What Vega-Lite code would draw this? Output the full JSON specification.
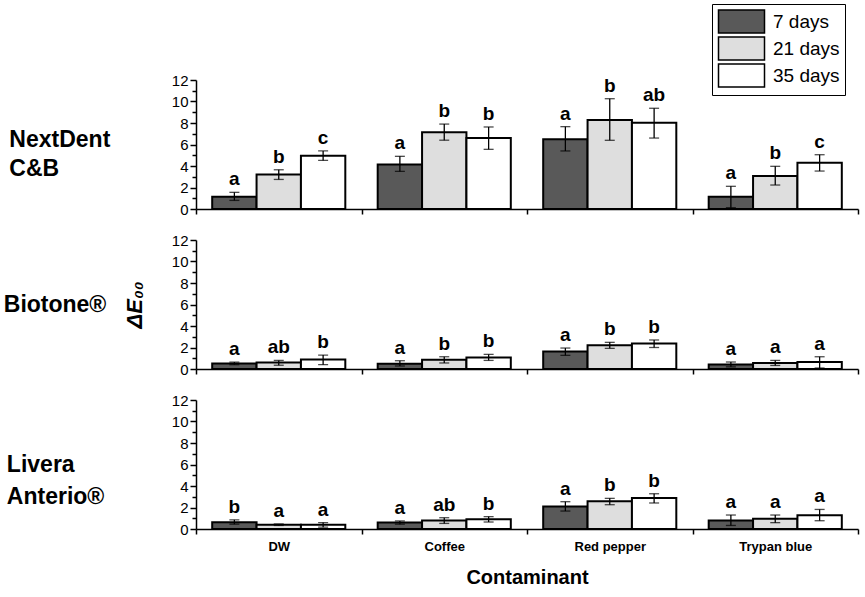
{
  "$schema": "https://vega.github.io/schema/vega-lite/v6.json",
  "padding": {"left": 3, "top": 3, "right": 5, "bottom": 5},
  "config": {"view": {"stroke": null}, "font": "Liberation Sans",
    "axis": {"domainColor": "black", "tickColor": "black", "labelColor": "black", "titleColor": "black", "grid": false, "domainWidth": 1.5, "tickWidth": 1.5},
    "axisY": {"labelOverlap": false}},
  "datasets": {"d": [
    {"material": "NextDent C&B", "contaminant": "DW", "time": "7 days", "mean": 1.15, "lo": 0.8, "hi": 1.55, "letter": "a"},
    {"material": "NextDent C&B", "contaminant": "DW", "time": "21 days", "mean": 3.2, "lo": 2.75, "hi": 3.65, "letter": "b"},
    {"material": "NextDent C&B", "contaminant": "DW", "time": "35 days", "mean": 4.95, "lo": 4.52, "hi": 5.4, "letter": "c"},
    {"material": "NextDent C&B", "contaminant": "Coffee", "time": "7 days", "mean": 4.15, "lo": 3.5, "hi": 4.9, "letter": "a"},
    {"material": "NextDent C&B", "contaminant": "Coffee", "time": "21 days", "mean": 7.15, "lo": 6.4, "hi": 7.9, "letter": "b"},
    {"material": "NextDent C&B", "contaminant": "Coffee", "time": "35 days", "mean": 6.6, "lo": 5.55, "hi": 7.63, "letter": "b"},
    {"material": "NextDent C&B", "contaminant": "Red pepper", "time": "7 days", "mean": 6.5, "lo": 5.4, "hi": 7.66, "letter": "a"},
    {"material": "NextDent C&B", "contaminant": "Red pepper", "time": "21 days", "mean": 8.28, "lo": 6.39, "hi": 10.26, "letter": "b"},
    {"material": "NextDent C&B", "contaminant": "Red pepper", "time": "35 days", "mean": 8.03, "lo": 6.6, "hi": 9.37, "letter": "ab"},
    {"material": "NextDent C&B", "contaminant": "Trypan blue", "time": "7 days", "mean": 1.15, "lo": 0.12, "hi": 2.11, "letter": "a"},
    {"material": "NextDent C&B", "contaminant": "Trypan blue", "time": "21 days", "mean": 3.07, "lo": 2.23, "hi": 3.97, "letter": "b"},
    {"material": "NextDent C&B", "contaminant": "Trypan blue", "time": "35 days", "mean": 4.31, "lo": 3.53, "hi": 5.05, "letter": "c"},
    {"material": "Biotone", "contaminant": "DW", "time": "7 days", "mean": 0.52, "lo": 0.4, "hi": 0.64, "letter": "a"},
    {"material": "Biotone", "contaminant": "DW", "time": "21 days", "mean": 0.6, "lo": 0.35, "hi": 0.8, "letter": "ab"},
    {"material": "Biotone", "contaminant": "DW", "time": "35 days", "mean": 0.88, "lo": 0.4, "hi": 1.3, "letter": "b"},
    {"material": "Biotone", "contaminant": "Coffee", "time": "7 days", "mean": 0.5, "lo": 0.28, "hi": 0.77, "letter": "a"},
    {"material": "Biotone", "contaminant": "Coffee", "time": "21 days", "mean": 0.87, "lo": 0.56, "hi": 1.14, "letter": "b"},
    {"material": "Biotone", "contaminant": "Coffee", "time": "35 days", "mean": 1.08, "lo": 0.8, "hi": 1.36, "letter": "b"},
    {"material": "Biotone", "contaminant": "Red pepper", "time": "7 days", "mean": 1.62, "lo": 1.27, "hi": 1.95, "letter": "a"},
    {"material": "Biotone", "contaminant": "Red pepper", "time": "21 days", "mean": 2.2, "lo": 1.92, "hi": 2.48, "letter": "b"},
    {"material": "Biotone", "contaminant": "Red pepper", "time": "35 days", "mean": 2.38, "lo": 2.0, "hi": 2.7, "letter": "b"},
    {"material": "Biotone", "contaminant": "Trypan blue", "time": "7 days", "mean": 0.43, "lo": 0.2, "hi": 0.65, "letter": "a"},
    {"material": "Biotone", "contaminant": "Trypan blue", "time": "21 days", "mean": 0.56, "lo": 0.33, "hi": 0.8, "letter": "a"},
    {"material": "Biotone", "contaminant": "Trypan blue", "time": "35 days", "mean": 0.65, "lo": 0.09, "hi": 1.14, "letter": "a"},
    {"material": "Livera", "contaminant": "DW", "time": "7 days", "mean": 0.63, "lo": 0.45, "hi": 0.85, "letter": "b"},
    {"material": "Livera", "contaminant": "DW", "time": "21 days", "mean": 0.4, "lo": 0.33, "hi": 0.47, "letter": "a"},
    {"material": "Livera", "contaminant": "DW", "time": "35 days", "mean": 0.4, "lo": 0.17, "hi": 0.6, "letter": "a"},
    {"material": "Livera", "contaminant": "Coffee", "time": "7 days", "mean": 0.6, "lo": 0.45, "hi": 0.75, "letter": "a"},
    {"material": "Livera", "contaminant": "Coffee", "time": "21 days", "mean": 0.8, "lo": 0.52, "hi": 1.05, "letter": "ab"},
    {"material": "Livera", "contaminant": "Coffee", "time": "35 days", "mean": 0.9, "lo": 0.65, "hi": 1.15, "letter": "b"},
    {"material": "Livera", "contaminant": "Red pepper", "time": "7 days", "mean": 2.1, "lo": 1.67, "hi": 2.54, "letter": "a"},
    {"material": "Livera", "contaminant": "Red pepper", "time": "21 days", "mean": 2.57, "lo": 2.26, "hi": 2.85, "letter": "b"},
    {"material": "Livera", "contaminant": "Red pepper", "time": "35 days", "mean": 2.88, "lo": 2.42, "hi": 3.28, "letter": "b"},
    {"material": "Livera", "contaminant": "Trypan blue", "time": "7 days", "mean": 0.8, "lo": 0.33, "hi": 1.3, "letter": "a"},
    {"material": "Livera", "contaminant": "Trypan blue", "time": "21 days", "mean": 0.96, "lo": 0.59, "hi": 1.3, "letter": "a"},
    {"material": "Livera", "contaminant": "Trypan blue", "time": "35 days", "mean": 1.27, "lo": 0.77, "hi": 1.82, "letter": "a"}
  ]},
  "data": {"name": "d"},
  "spacing": 31,
  "bounds": "flush",
  "vconcat": [
    {
      "width": 662, "height": 129,
      "title": {"text": ["NextDent", "C&B"], "orient": "left", "angle": 0, "align": "left", "baseline": "middle", "anchor": "middle", "fontSize": 23, "fontWeight": "bold", "lineHeight": 29, "offset": 61, "dy": -5, "color": "black"},
      "transform": [{"filter": "datum.material === 'NextDent C&B'"}],
      "encoding": {
        "x": {"field": "contaminant", "type": "nominal", "sort": ["DW", "Coffee", "Red pepper", "Trypan blue"], "scale": {"paddingInner": 0, "paddingOuter": 0}, "axis": {"title": null, "labels": false, "tickBand": "extent", "tickSize": 5}},
        "xOffset": {"field": "time", "type": "nominal", "sort": ["7 days", "21 days", "35 days"], "scale": {"paddingInner": 0, "paddingOuter": 0.365}}
      },
      "layer": [
        {"mark": {"type": "bar", "stroke": "black", "strokeWidth": 2},
         "encoding": {
           "y": {"field": "mean", "type": "quantitative", "title": null, "scale": {"domain": [0, 12], "nice": false}, "axis": {"values": [0,1,2,3,4,5,6,7,8,9,10,11,12], "labelExpr": "datum.value % 2 === 0 ? datum.label : ''", "labelOverlap": false, "labelFontSize": 15, "tickSize": {"condition": {"test": "datum.value % 2 === 0", "value": 6}, "value": 4}, "labelPadding": 2}},
           "fill": {"field": "time", "type": "nominal", "sort": ["7 days", "21 days", "35 days"], "scale": {"domain": ["7 days", "21 days", "35 days"], "range": ["#595959", "#dedede", "#ffffff"]},
             "legend": {"title": null, "orient": "none", "legendX": 516, "legendY": -76, "strokeColor": "black", "padding": 5, "symbolType": "M-2,-1H2V1H-2Z", "symbolSize": 529, "symbolStrokeColor": "black", "symbolStrokeWidth": 1.5, "symbolOffset": 12, "labelOffset": 19, "labelFontSize": 19, "labelColor": "black", "rowPadding": -2, "fillColor": "white"}}
         }},
        {"mark": {"type": "rule", "strokeWidth": 1.3, "color": "black"}, "encoding": {"y": {"field": "lo", "type": "quantitative", "title": null, "axis": {"values": [0,1,2,3,4,5,6,7,8,9,10,11,12], "labelExpr": "datum.value % 2 === 0 ? datum.label : ''", "labelOverlap": false, "labelFontSize": 15, "tickSize": {"condition": {"test": "datum.value % 2 === 0", "value": 6}, "value": 4}, "labelPadding": 2}}, "y2": {"field": "hi"}}},
        {"mark": {"type": "tick", "orient": "horizontal", "size": 10, "thickness": 1.3, "color": "black"}, "encoding": {"y": {"field": "hi", "type": "quantitative", "title": null, "axis": {"values": [0,1,2,3,4,5,6,7,8,9,10,11,12], "labelExpr": "datum.value % 2 === 0 ? datum.label : ''", "labelOverlap": false, "labelFontSize": 15, "tickSize": {"condition": {"test": "datum.value % 2 === 0", "value": 6}, "value": 4}, "labelPadding": 2}}}},
        {"mark": {"type": "tick", "orient": "horizontal", "size": 10, "thickness": 1.3, "color": "black"}, "encoding": {"y": {"field": "lo", "type": "quantitative", "title": null, "axis": {"values": [0,1,2,3,4,5,6,7,8,9,10,11,12], "labelExpr": "datum.value % 2 === 0 ? datum.label : ''", "labelOverlap": false, "labelFontSize": 15, "tickSize": {"condition": {"test": "datum.value % 2 === 0", "value": 6}, "value": 4}, "labelPadding": 2}}}},
        {"mark": {"type": "text", "baseline": "bottom", "dy": -3, "fontSize": 19, "fontWeight": "bold", "color": "black"}, "encoding": {"y": {"field": "hi", "type": "quantitative", "title": null, "axis": {"values": [0,1,2,3,4,5,6,7,8,9,10,11,12], "labelExpr": "datum.value % 2 === 0 ? datum.label : ''", "labelOverlap": false, "labelFontSize": 15, "tickSize": {"condition": {"test": "datum.value % 2 === 0", "value": 6}, "value": 4}, "labelPadding": 2}}, "text": {"field": "letter"}}}
      ]
    },
    {
      "width": 662, "height": 129,
      "title": {"text": "Biotone®", "orient": "left", "angle": 0, "align": "left", "baseline": "middle", "anchor": "middle", "fontSize": 23, "fontWeight": "bold", "offset": 17, "color": "black"},
      "transform": [{"filter": "datum.material === 'Biotone'"}],
      "encoding": {
        "x": {"field": "contaminant", "type": "nominal", "sort": ["DW", "Coffee", "Red pepper", "Trypan blue"], "scale": {"paddingInner": 0, "paddingOuter": 0}, "axis": {"title": null, "labels": false, "tickBand": "extent", "tickSize": 5}},
        "xOffset": {"field": "time", "type": "nominal", "sort": ["7 days", "21 days", "35 days"], "scale": {"paddingInner": 0, "paddingOuter": 0.365}}
      },
      "layer": [
        {"mark": {"type": "bar", "stroke": "black", "strokeWidth": 2},
         "encoding": {
           "y": {"field": "mean", "type": "quantitative", "title": "ΔE₀₀", "scale": {"domain": [0, 12], "nice": false}, "axis": {"values": [0,1,2,3,4,5,6,7,8,9,10,11,12], "labelExpr": "datum.value % 2 === 0 ? datum.label : ''", "labelOverlap": false, "labelFontSize": 15, "tickSize": {"condition": {"test": "datum.value % 2 === 0", "value": 6}, "value": 4}, "labelPadding": 2, "titleFontSize": 22, "titleFontWeight": "bold", "titleFontStyle": "italic", "titlePadding": 25}},
           "fill": {"field": "time", "type": "nominal", "sort": ["7 days", "21 days", "35 days"]}
         }},
        {"mark": {"type": "rule", "strokeWidth": 1.3, "color": "black"}, "encoding": {"y": {"field": "lo", "type": "quantitative", "title": "ΔE₀₀", "axis": {"values": [0,1,2,3,4,5,6,7,8,9,10,11,12], "labelExpr": "datum.value % 2 === 0 ? datum.label : ''", "labelOverlap": false, "labelFontSize": 15, "tickSize": {"condition": {"test": "datum.value % 2 === 0", "value": 6}, "value": 4}, "labelPadding": 2, "titleFontSize": 22, "titleFontWeight": "bold", "titleFontStyle": "italic", "titlePadding": 25}}, "y2": {"field": "hi"}}},
        {"mark": {"type": "tick", "orient": "horizontal", "size": 10, "thickness": 1.3, "color": "black"}, "encoding": {"y": {"field": "hi", "type": "quantitative", "title": "ΔE₀₀", "axis": {"values": [0,1,2,3,4,5,6,7,8,9,10,11,12], "labelExpr": "datum.value % 2 === 0 ? datum.label : ''", "labelOverlap": false, "labelFontSize": 15, "tickSize": {"condition": {"test": "datum.value % 2 === 0", "value": 6}, "value": 4}, "labelPadding": 2, "titleFontSize": 22, "titleFontWeight": "bold", "titleFontStyle": "italic", "titlePadding": 25}}}},
        {"mark": {"type": "tick", "orient": "horizontal", "size": 10, "thickness": 1.3, "color": "black"}, "encoding": {"y": {"field": "lo", "type": "quantitative", "title": "ΔE₀₀", "axis": {"values": [0,1,2,3,4,5,6,7,8,9,10,11,12], "labelExpr": "datum.value % 2 === 0 ? datum.label : ''", "labelOverlap": false, "labelFontSize": 15, "tickSize": {"condition": {"test": "datum.value % 2 === 0", "value": 6}, "value": 4}, "labelPadding": 2, "titleFontSize": 22, "titleFontWeight": "bold", "titleFontStyle": "italic", "titlePadding": 25}}}},
        {"mark": {"type": "text", "baseline": "bottom", "dy": -3, "fontSize": 19, "fontWeight": "bold", "color": "black"}, "encoding": {"y": {"field": "hi", "type": "quantitative", "title": "ΔE₀₀", "axis": {"values": [0,1,2,3,4,5,6,7,8,9,10,11,12], "labelExpr": "datum.value % 2 === 0 ? datum.label : ''", "labelOverlap": false, "labelFontSize": 15, "tickSize": {"condition": {"test": "datum.value % 2 === 0", "value": 6}, "value": 4}, "labelPadding": 2, "titleFontSize": 22, "titleFontWeight": "bold", "titleFontStyle": "italic", "titlePadding": 25}}, "text": {"field": "letter"}}}
      ]
    },
    {
      "width": 662, "height": 129,
      "title": {"text": ["Livera", "Anterio®"], "orient": "left", "angle": 0, "align": "left", "baseline": "middle", "anchor": "middle", "fontSize": 23, "fontWeight": "bold", "lineHeight": 32, "offset": 67, "color": "black"},
      "transform": [{"filter": "datum.material === 'Livera'"}],
      "encoding": {
        "x": {"field": "contaminant", "type": "nominal", "sort": ["DW", "Coffee", "Red pepper", "Trypan blue"], "scale": {"paddingInner": 0, "paddingOuter": 0}, "axis": {"title": "Contaminant", "labelAngle": 0, "labelFontSize": 13, "labelFontWeight": "bold", "labelPadding": 6, "titleFontSize": 20, "titleFontWeight": "bold", "titlePadding": 14, "tickBand": "extent", "tickSize": 5}},
        "xOffset": {"field": "time", "type": "nominal", "sort": ["7 days", "21 days", "35 days"], "scale": {"paddingInner": 0, "paddingOuter": 0.365}}
      },
      "layer": [
        {"mark": {"type": "bar", "stroke": "black", "strokeWidth": 2},
         "encoding": {
           "y": {"field": "mean", "type": "quantitative", "title": null, "scale": {"domain": [0, 12], "nice": false}, "axis": {"values": [0,1,2,3,4,5,6,7,8,9,10,11,12], "labelExpr": "datum.value % 2 === 0 ? datum.label : ''", "labelOverlap": false, "labelFontSize": 15, "tickSize": {"condition": {"test": "datum.value % 2 === 0", "value": 6}, "value": 4}, "labelPadding": 2}},
           "fill": {"field": "time", "type": "nominal", "sort": ["7 days", "21 days", "35 days"]}
         }},
        {"mark": {"type": "rule", "strokeWidth": 1.3, "color": "black"}, "encoding": {"y": {"field": "lo", "type": "quantitative", "title": null, "axis": {"values": [0,1,2,3,4,5,6,7,8,9,10,11,12], "labelExpr": "datum.value % 2 === 0 ? datum.label : ''", "labelOverlap": false, "labelFontSize": 15, "tickSize": {"condition": {"test": "datum.value % 2 === 0", "value": 6}, "value": 4}, "labelPadding": 2}}, "y2": {"field": "hi"}}},
        {"mark": {"type": "tick", "orient": "horizontal", "size": 10, "thickness": 1.3, "color": "black"}, "encoding": {"y": {"field": "hi", "type": "quantitative", "title": null, "axis": {"values": [0,1,2,3,4,5,6,7,8,9,10,11,12], "labelExpr": "datum.value % 2 === 0 ? datum.label : ''", "labelOverlap": false, "labelFontSize": 15, "tickSize": {"condition": {"test": "datum.value % 2 === 0", "value": 6}, "value": 4}, "labelPadding": 2}}}},
        {"mark": {"type": "tick", "orient": "horizontal", "size": 10, "thickness": 1.3, "color": "black"}, "encoding": {"y": {"field": "lo", "type": "quantitative", "title": null, "axis": {"values": [0,1,2,3,4,5,6,7,8,9,10,11,12], "labelExpr": "datum.value % 2 === 0 ? datum.label : ''", "labelOverlap": false, "labelFontSize": 15, "tickSize": {"condition": {"test": "datum.value % 2 === 0", "value": 6}, "value": 4}, "labelPadding": 2}}}},
        {"mark": {"type": "text", "baseline": "bottom", "dy": -3, "fontSize": 19, "fontWeight": "bold", "color": "black"}, "encoding": {"y": {"field": "hi", "type": "quantitative", "title": null, "axis": {"values": [0,1,2,3,4,5,6,7,8,9,10,11,12], "labelExpr": "datum.value % 2 === 0 ? datum.label : ''", "labelOverlap": false, "labelFontSize": 15, "tickSize": {"condition": {"test": "datum.value % 2 === 0", "value": 6}, "value": 4}, "labelPadding": 2}}, "text": {"field": "letter"}}}
      ]
    }
  ]
}
